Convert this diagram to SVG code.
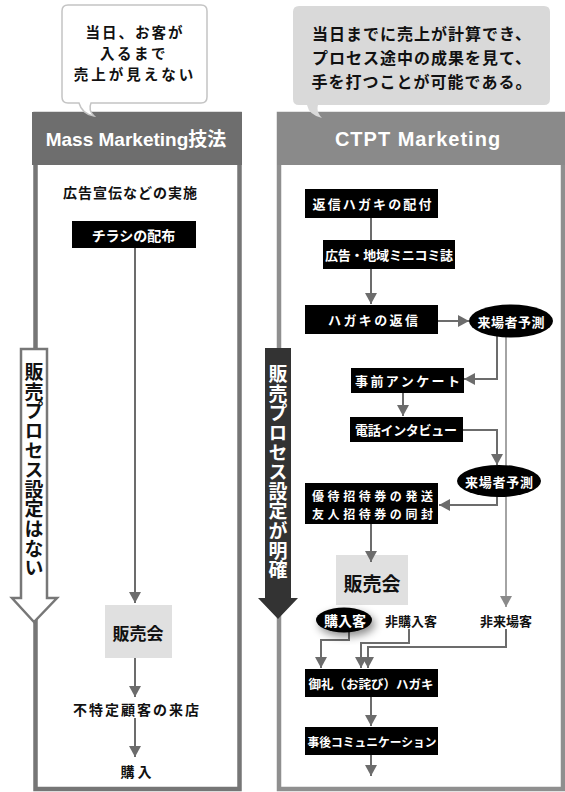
<svg xmlns="http://www.w3.org/2000/svg" width="565" height="792" viewBox="0 0 565 792">
<style>
.jp{font-family:"Noto Sans CJK JP","Noto Sans CJK SC",sans-serif;font-weight:bold;}
.hd{font-family:"Liberation Sans","Noto Sans CJK JP",sans-serif;font-weight:bold;fill:#fff;}
.w{fill:#fff;}
.k{fill:#111;}
.c{text-anchor:middle;dominant-baseline:central;}
.box{fill:#000;}
.sale{fill:#e0e0e0;}
.ln{fill:none;stroke:#6c6c6c;stroke-width:2;}
.ln2{fill:none;stroke:#a4a4a4;stroke-width:2;}
</style>
<defs>
<marker id="ah" markerUnits="userSpaceOnUse" markerWidth="12" markerHeight="12" refX="11" refY="6" orient="auto">
<path d="M0,0 L11,6 L0,12 z" fill="#6c6c6c"/>
</marker>
<marker id="ah2" markerUnits="userSpaceOnUse" markerWidth="12" markerHeight="12" refX="11" refY="6" orient="auto">
<path d="M0,0 L11,6 L0,12 z" fill="#8a8a8a"/>
</marker>
<filter id="sh" x="-50%" y="-50%" width="200%" height="200%">
<feDropShadow dx="3" dy="4" stdDeviation="4" flood-color="#000" flood-opacity="0.45"/>
</filter>
</defs>

<!-- Left panel -->
<g id="left-panel">
<rect x="35.5" y="114" width="204" height="675" fill="#fff" stroke="#767676" stroke-width="4.5"/>
<rect x="32" y="112" width="210" height="53" fill="#6e6e6e"/>
<text class="hd c" x="136" y="139" font-size="19">Mass Marketing技法</text>
</g>

<!-- Right panel -->
<g id="right-panel">
<rect x="279" y="114" width="284" height="675" fill="#fff" stroke="#8f8f8f" stroke-width="4.5"/>
<rect x="277" y="112" width="288" height="53" fill="#8a8a8a"/>
<text class="hd c" x="418" y="139" font-size="20" letter-spacing="1">CTPT Marketing</text>
</g>

<!-- Callouts -->
<g id="callout-left">
<path d="M68,5 H201 Q207,5 207,11 V97 Q207,103 201,103 H91 Q88,110 94,116 Q82,114 79,103 H68 Q62,103 62,97 V11 Q62,5 68,5 Z" fill="#fff" stroke="#c4c4c4" stroke-width="1.5"/>
<text class="jp k c" x="135" y="31.5" font-size="14.5" letter-spacing="2">当日、お客が</text>
<text class="jp k c" x="134" y="52.5" font-size="14.5" letter-spacing="2.5">入るまで</text>
<text class="jp k c" x="135" y="73.5" font-size="14.5" letter-spacing="3">売上が見えない</text>
</g>
<g id="callout-right">
<path d="M299,6 H544 Q550,6 550,12 V99 Q550,105 544,105 H318 Q316,112 322,118 Q309,115 307,105 H299 Q293,105 293,99 V12 Q293,6 299,6 Z" fill="#d9d9d9"/>
<text class="jp k c" x="422" y="33" font-size="16" letter-spacing="1">当日までに売上が計算でき、</text>
<text class="jp k c" x="422" y="57" font-size="16" letter-spacing="1">プロセス途中の成果を見て、</text>
<text class="jp k c" x="422" y="80.5" font-size="16" letter-spacing="1">手を打つことが可能である。</text>
</g>

<!-- Connectors -->
<g id="connectors">
<!-- left -->
<path class="ln" d="M135,248 V603" marker-end="url(#ah)"/>
<path class="ln" d="M135,658 V697" marker-end="url(#ah)"/>
<path class="ln" d="M135,718 V757" marker-end="url(#ah)"/>
<!-- right -->
<path class="ln" d="M371,218 V304" marker-end="url(#ah)"/>
<path class="ln" d="M438,321 H469" marker-end="url(#ah)"/>
<path class="ln" d="M497,336 V379 H464" marker-end="url(#ah)"/>
<path class="ln2" d="M506,336 V607" marker-end="url(#ah2)"/>
<path class="ln" d="M403,393 V416" marker-end="url(#ah)"/>
<path class="ln" d="M463,430 H497 V465" marker-end="url(#ah)"/>
<path class="ln" d="M497,496 V505 H439" marker-end="url(#ah)"/>
<path class="ln" d="M349,631 V640 H321 V668" marker-end="url(#ah)"/>
<path class="ln" d="M409,629 V643 H361 V668" marker-end="url(#ah)"/>
<path class="ln" d="M506,629 V647 H368 V668" marker-end="url(#ah)"/>
<path class="ln" d="M371,697 V726" marker-end="url(#ah)"/>
<path class="ln" d="M371,755 V776" marker-end="url(#ah)"/>
</g>

<!-- Left nodes -->
<g id="l-ad"><text class="jp k c" x="130" y="192" font-size="14" textLength="134">広告宣伝などの実施</text></g>
<g id="l-flyer"><rect class="box" x="72" y="221" width="124" height="27"/><text class="jp w c" x="133.5" y="234.5" font-size="14">チラシの配布</text></g>
<g id="l-sale"><rect class="sale" x="105" y="605" width="67" height="53"/><text class="jp k c" x="138" y="632" font-size="17">販売会</text></g>
<g id="l-visit"><text class="jp k c" x="136" y="709" font-size="14" textLength="126">不特定顧客の来店</text></g>
<g id="l-buy"><text class="jp k c" x="136" y="771" font-size="14" textLength="31">購入</text></g>

<!-- Left vertical arrow -->
<g id="l-process">
<path d="M21,349 H47 V598 H57 L34,622 L12,598 H21 Z" fill="#fff" stroke="#777" stroke-width="2.5" stroke-linejoin="miter"/>
<text class="jp k" x="34" y="470" font-size="19" text-anchor="middle" style="writing-mode:vertical-rl" textLength="215">販売プロセス設定はない</text>
</g>

<!-- Right vertical arrow -->
<g id="r-process">
<path d="M265,348 H291 V598 H298 L278,619 L258,598 H265 Z" fill="#333"/>
<text class="jp w" x="278" y="472" font-size="19" text-anchor="middle" style="writing-mode:vertical-rl" textLength="215">販売プロセス設定が明確</text>
</g>

<!-- Right nodes -->
<g id="r-send"><rect class="box" x="305" y="189" width="133" height="29"/><text class="jp w c" x="372" y="203.5" font-size="13" textLength="119">返信ハガキの配付</text></g>
<g id="r-media"><rect class="box" x="323" y="240" width="132" height="29"/><text class="jp w c" x="389" y="254.5" font-size="13" textLength="128">広告・地域ミニコミ誌</text></g>
<g id="r-reply"><rect class="box" x="305" y="305" width="133" height="29"/><text class="jp w c" x="373" y="319.5" font-size="13" textLength="90">ハガキの返信</text></g>
<g id="r-forecast1"><ellipse cx="511" cy="321" rx="42" ry="16.5" fill="#000"/><text class="jp w c" x="511" y="321" font-size="13" textLength="67">来場者予測</text></g>
<g id="r-survey"><rect class="box" x="351" y="368" width="113" height="25"/><text class="jp w c" x="407.5" y="380.5" font-size="13" textLength="105">事前アンケート</text></g>
<g id="r-interview"><rect class="box" x="350" y="417" width="113" height="25"/><text class="jp w c" x="406" y="429.5" font-size="13" textLength="102">電話インタビュー</text></g>
<g id="r-forecast2"><ellipse cx="499" cy="481" rx="42" ry="16" fill="#000"/><text class="jp w c" x="499" y="481" font-size="13" textLength="68">来場者予測</text></g>
<g id="r-ticket"><rect class="box" x="305" y="483" width="133" height="41"/><text class="jp w c" x="372.5" y="495.5" font-size="12" textLength="121">優待招待券の発送</text><text class="jp w c" x="372.5" y="513" font-size="12" textLength="121">友人招待券の同封</text></g>
<g id="r-sale"><rect class="sale" x="336" y="555" width="72" height="50"/><text class="jp k c" x="372" y="582" font-size="19">販売会</text></g>
<path class="ln" d="M371,524 V562" marker-end="url(#ah)"/>
<g id="r-buyer"><ellipse cx="344" cy="620" rx="28" ry="12.5" fill="#000" filter="url(#sh)"/><text class="jp w c" x="345" y="620" font-size="14">購入客</text></g>
<g id="r-nonbuyer"><text class="jp k c" x="411" y="620" font-size="13">非購入客</text></g>
<g id="r-nonvisitor"><text class="jp k c" x="506" y="620" font-size="13">非来場客</text></g>
<g id="r-thanks"><rect class="box" x="305" y="669" width="133" height="28"/><text class="jp w c" x="371" y="683" font-size="12.5" textLength="125">御礼（お詫び）ハガキ</text></g>
<g id="r-after"><rect class="box" x="305" y="727" width="133" height="28"/><text class="jp w c" x="372" y="741" font-size="12" textLength="129" lengthAdjust="spacingAndGlyphs">事後コミュニケーション</text></g>
</svg>
